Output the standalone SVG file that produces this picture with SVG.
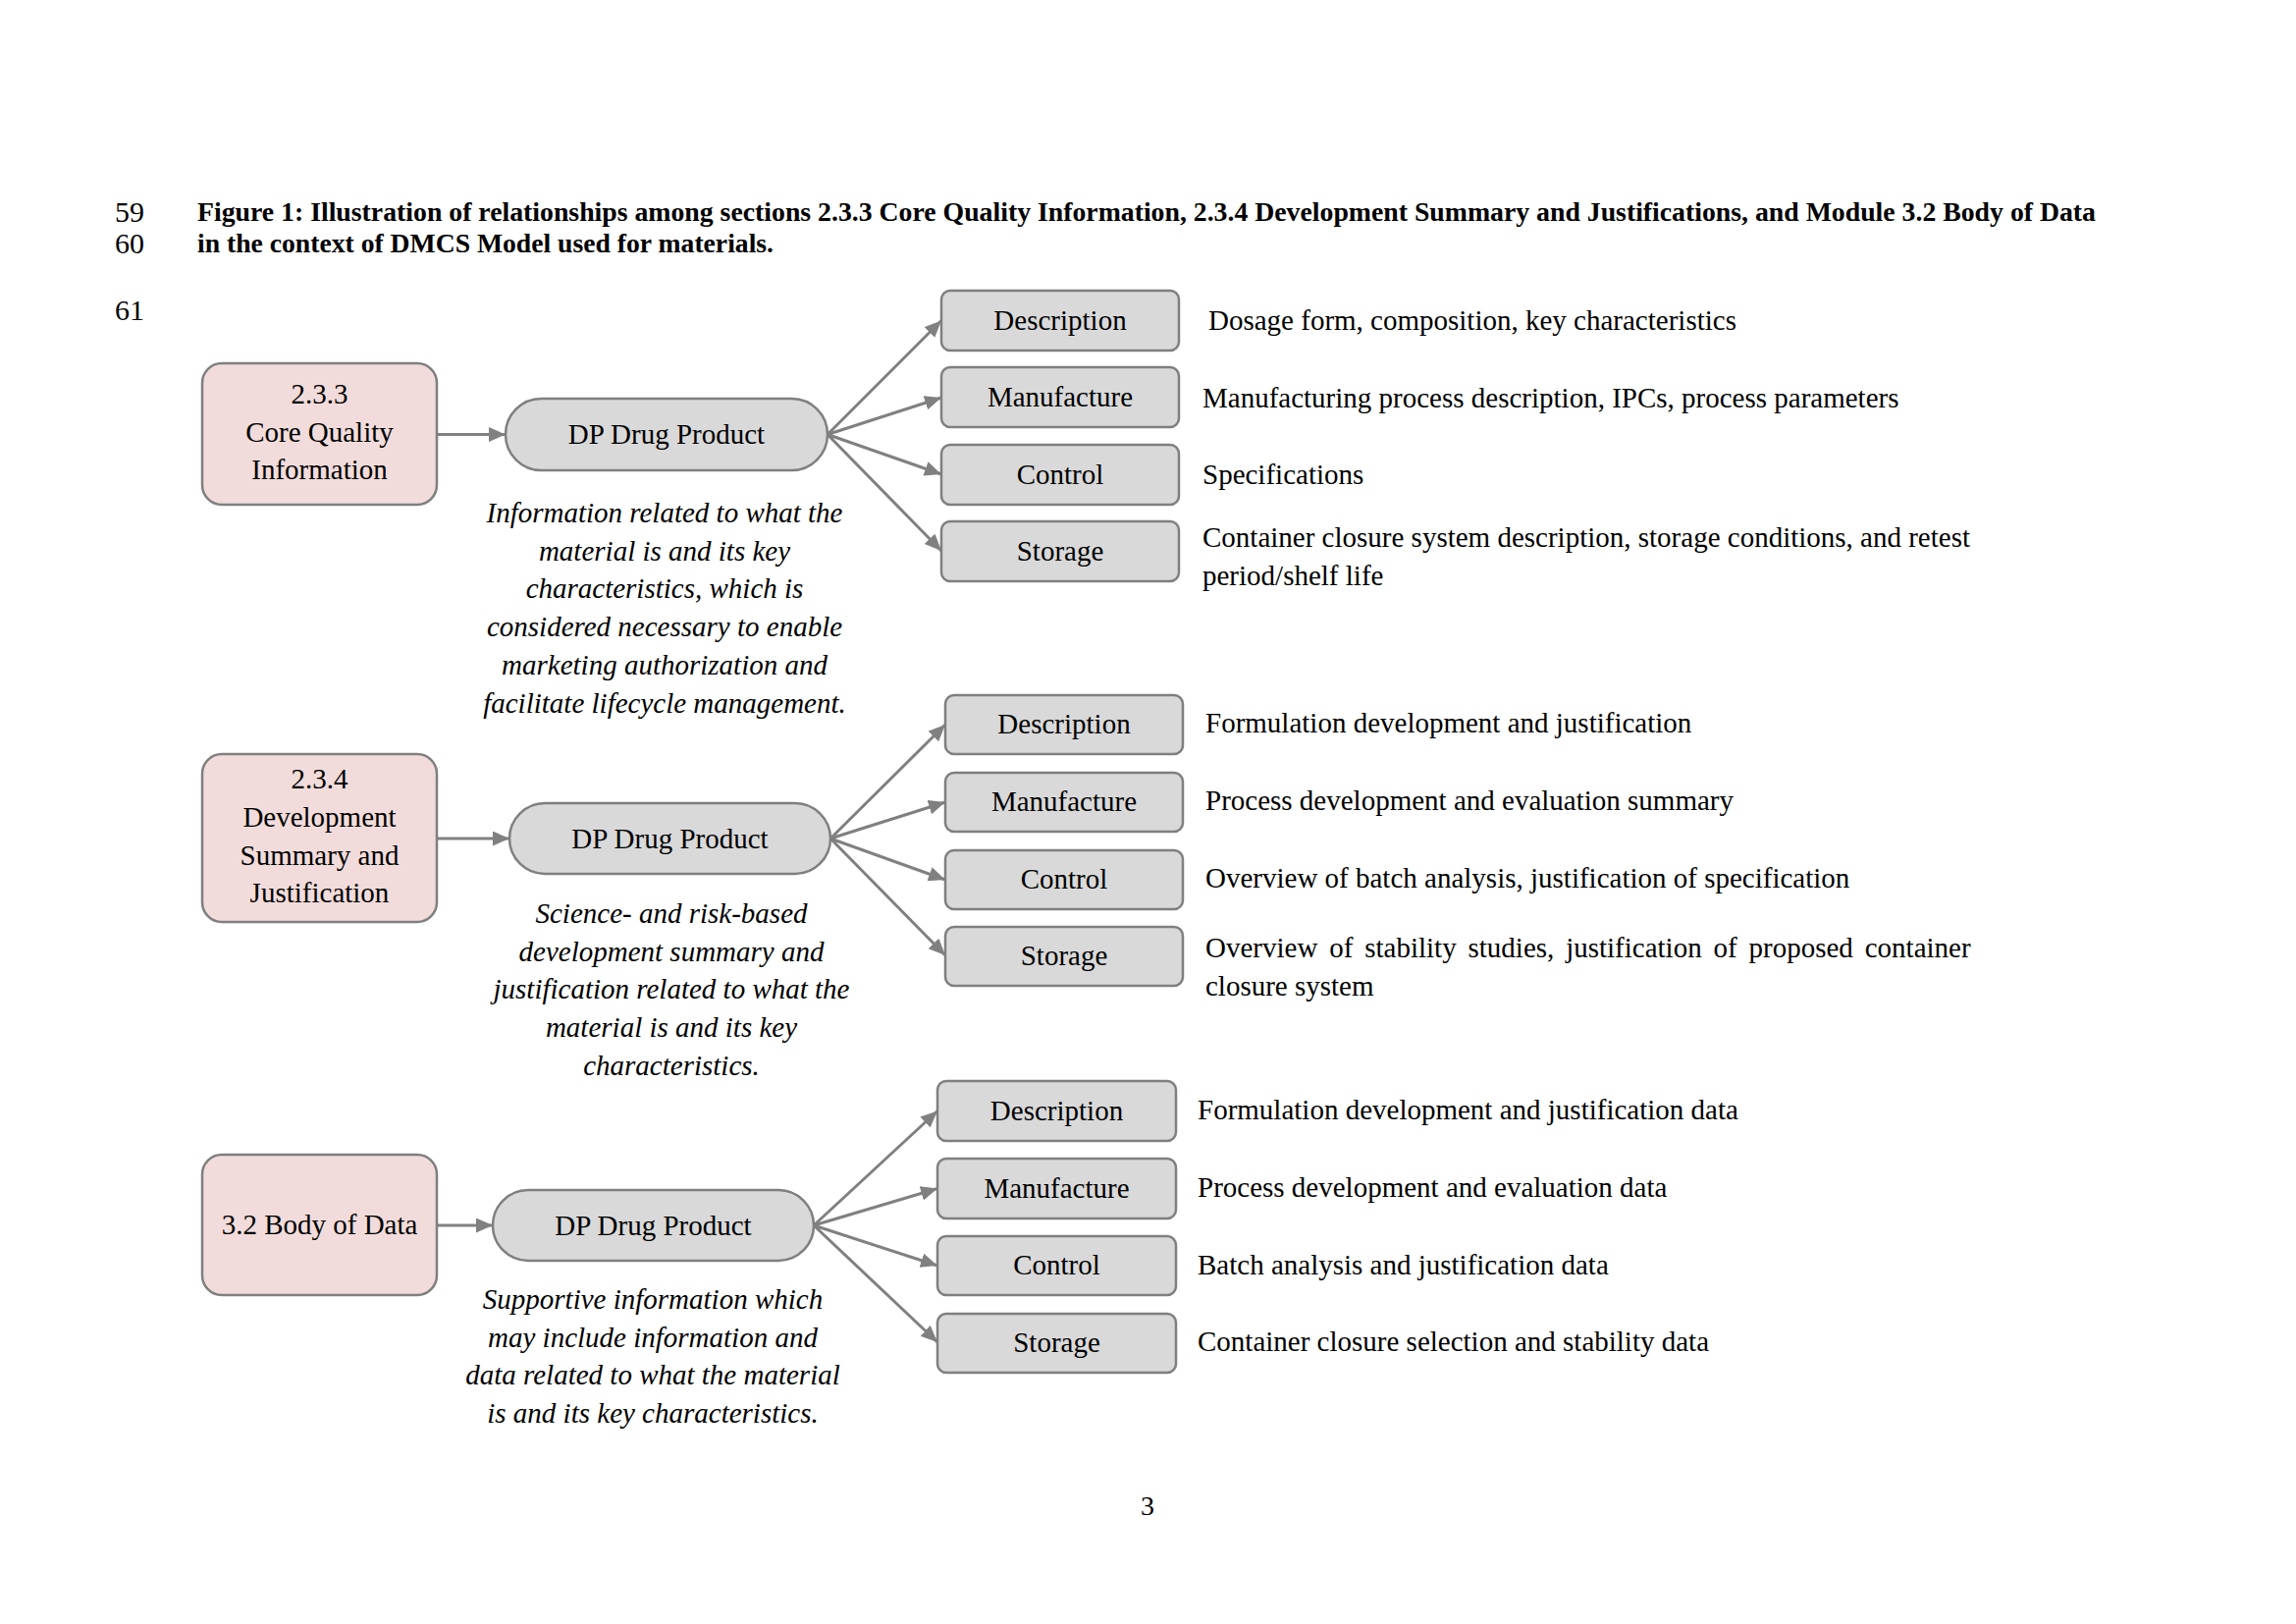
<svg xmlns="http://www.w3.org/2000/svg" width="2339" height="1654" viewBox="0 0 2339 1654">
<style>
text{font-family:"Liberation Serif","Times New Roman",serif;fill:#000}
.ln{font-size:30px}
.pg{font-size:28px}
.cap{font-size:27px;font-weight:bold}
.t{font-size:29px}
.c{text-anchor:middle}
.it{font-size:29px;font-style:italic;text-anchor:middle}
.pink{fill:#f2dcdb;stroke:#7f7f7f;stroke-width:2.5}
.gray{fill:#d9d9d9;stroke:#7f7f7f;stroke-width:2.5}
.conn line{stroke:#808080;stroke-width:3;marker-end:url(#ah)}
</style>
<defs>
<marker id="ah" markerUnits="userSpaceOnUse" markerWidth="18" markerHeight="16" refX="17" refY="7.5" orient="auto">
<path d="M0,0 L17,7.5 L0,15 z" fill="#808080"/>
</marker>
</defs>
<rect width="2339" height="1654" fill="#ffffff"/>
<g id="header">
<text class="ln" x="117" y="226">59</text>
<text class="ln" x="117" y="258">60</text>
<text class="ln" x="117" y="326">61</text>
<text class="cap" x="201" y="225" textLength="1934" lengthAdjust="spacingAndGlyphs">Figure 1: Illustration of relationships among sections 2.3.3 Core Quality Information, 2.3.4 Development Summary and Justifications, and Module 3.2 Body of Data</text>
<text class="cap" x="201" y="257" textLength="587" lengthAdjust="spacingAndGlyphs">in the context of DMCS Model used for materials.</text>
</g>
<g class="conn" id="connectors">
<line x1="445" y1="442.5" x2="515" y2="442.5"/>
<line x1="843" y1="442.5" x2="959" y2="326.5"/>
<line x1="843" y1="442.5" x2="959" y2="405"/>
<line x1="843" y1="442.5" x2="959" y2="483"/>
<line x1="843" y1="442.5" x2="959" y2="561"/>
<line x1="445" y1="854" x2="519" y2="854"/>
<line x1="846" y1="854" x2="963" y2="738"/>
<line x1="846" y1="854" x2="963" y2="817"/>
<line x1="846" y1="854" x2="963" y2="896"/>
<line x1="846" y1="854" x2="963" y2="973"/>
<line x1="445" y1="1248" x2="502" y2="1248"/>
<line x1="829" y1="1248" x2="955" y2="1131.5"/>
<line x1="829" y1="1248" x2="955" y2="1210.5"/>
<line x1="829" y1="1248" x2="955" y2="1289"/>
<line x1="829" y1="1248" x2="955" y2="1367"/>
</g>
<g id="n233">
<rect class="pink" x="206" y="370" width="239" height="144" rx="20"/>
<text class="t c" x="325.5" y="411">2.3.3</text>
<text class="t c" x="325.5" y="450">Core Quality</text>
<text class="t c" x="325.5" y="488">Information</text>
</g>
<g id="dp1">
<rect class="gray" x="515" y="406" width="328" height="73" rx="36.5"/>
<text class="t c" x="679" y="452">DP Drug Product</text>
</g>
<g id="desc1">
<text class="it" x="677" y="532">Information related to what the</text>
<text class="it" x="677" y="570.7">material is and its key</text>
<text class="it" x="677" y="609.4">characteristics, which is</text>
<text class="it" x="677" y="648">considered necessary to enable</text>
<text class="it" x="677" y="686.8">marketing authorization and</text>
<text class="it" x="677" y="725.5">facilitate lifecycle management.</text>
</g>
<g id="g1-description">
<rect class="gray" x="959" y="296" width="242" height="61" rx="9"/>
<text class="t c" x="1080" y="336">Description</text>
<text class="t" x="1231" y="336">Dosage form, composition, key characteristics</text>
</g>
<g id="g1-manufacture">
<rect class="gray" x="959" y="374" width="242" height="61" rx="9"/>
<text class="t c" x="1080" y="414">Manufacture</text>
<text class="t" x="1225" y="415">Manufacturing process description, IPCs, process parameters</text>
</g>
<g id="g1-control">
<rect class="gray" x="959" y="453" width="242" height="61" rx="9"/>
<text class="t c" x="1080" y="493">Control</text>
<text class="t" x="1225" y="493">Specifications</text>
</g>
<g id="g1-storage">
<rect class="gray" x="959" y="531" width="242" height="61" rx="9"/>
<text class="t c" x="1080" y="571">Storage</text>
<text class="t" x="1225" y="557">Container closure system description, storage conditions, and retest</text>
<text class="t" x="1225" y="596">period/shelf life</text>
</g>
<g id="n234">
<rect class="pink" x="206" y="768" width="239" height="171" rx="20"/>
<text class="t c" x="325.5" y="803">2.3.4</text>
<text class="t c" x="325.5" y="842">Development</text>
<text class="t c" x="325.5" y="880.5">Summary and</text>
<text class="t c" x="325.5" y="919">Justification</text>
</g>
<g id="dp2">
<rect class="gray" x="519" y="818" width="327" height="72" rx="36"/>
<text class="t c" x="682.5" y="864">DP Drug Product</text>
</g>
<g id="desc2">
<text class="it" x="684" y="940">Science- and risk-based</text>
<text class="it" x="684" y="978.7">development summary and</text>
<text class="it" x="684" y="1017.4">justification related to what the</text>
<text class="it" x="684" y="1056">material is and its key</text>
<text class="it" x="684" y="1094.8">characteristics.</text>
</g>
<g id="g2-description">
<rect class="gray" x="963" y="708" width="242" height="60" rx="9"/>
<text class="t c" x="1084" y="747">Description</text>
<text class="t" x="1228" y="746">Formulation development and justification</text>
</g>
<g id="g2-manufacture">
<rect class="gray" x="963" y="787" width="242" height="60" rx="9"/>
<text class="t c" x="1084" y="826">Manufacture</text>
<text class="t" x="1228" y="825">Process development and evaluation summary</text>
</g>
<g id="g2-control">
<rect class="gray" x="963" y="866" width="242" height="60" rx="9"/>
<text class="t c" x="1084" y="905">Control</text>
<text class="t" x="1228" y="904">Overview of batch analysis, justification of specification</text>
</g>
<g id="g2-storage">
<rect class="gray" x="963" y="944" width="242" height="60" rx="9"/>
<text class="t c" x="1084" y="983">Storage</text>
<text class="t" x="1228" y="975" word-spacing="4.6">Overview of stability studies, justification of proposed container</text>
<text class="t" x="1228" y="1014">closure system</text>
</g>
<g id="n32">
<rect class="pink" x="206" y="1176" width="239" height="143" rx="20"/>
<text class="t c" x="325.5" y="1257">3.2 Body of Data</text>
</g>
<g id="dp3">
<rect class="gray" x="502" y="1212" width="327" height="72" rx="36"/>
<text class="t c" x="665.5" y="1258">DP Drug Product</text>
</g>
<g id="desc3">
<text class="it" x="665" y="1333">Supportive information which</text>
<text class="it" x="665" y="1371.7">may include information and</text>
<text class="it" x="665" y="1410.4">data related to what the material</text>
<text class="it" x="665" y="1449">is and its key characteristics.</text>
</g>
<g id="g3-description">
<rect class="gray" x="955" y="1101" width="243" height="61" rx="9"/>
<text class="t c" x="1076.5" y="1141">Description</text>
<text class="t" x="1220" y="1140">Formulation development and justification data</text>
</g>
<g id="g3-manufacture">
<rect class="gray" x="955" y="1180" width="243" height="61" rx="9"/>
<text class="t c" x="1076.5" y="1220">Manufacture</text>
<text class="t" x="1220" y="1219">Process development and evaluation data</text>
</g>
<g id="g3-control">
<rect class="gray" x="955" y="1259" width="243" height="60" rx="9"/>
<text class="t c" x="1076.5" y="1298">Control</text>
<text class="t" x="1220" y="1298">Batch analysis and justification data</text>
</g>
<g id="g3-storage">
<rect class="gray" x="955" y="1338" width="243" height="60" rx="9"/>
<text class="t c" x="1076.5" y="1377">Storage</text>
<text class="t" x="1220" y="1376">Container closure selection and stability data</text>
</g>
<text class="pg" x="1169" y="1543" text-anchor="middle">3</text>
</svg>
